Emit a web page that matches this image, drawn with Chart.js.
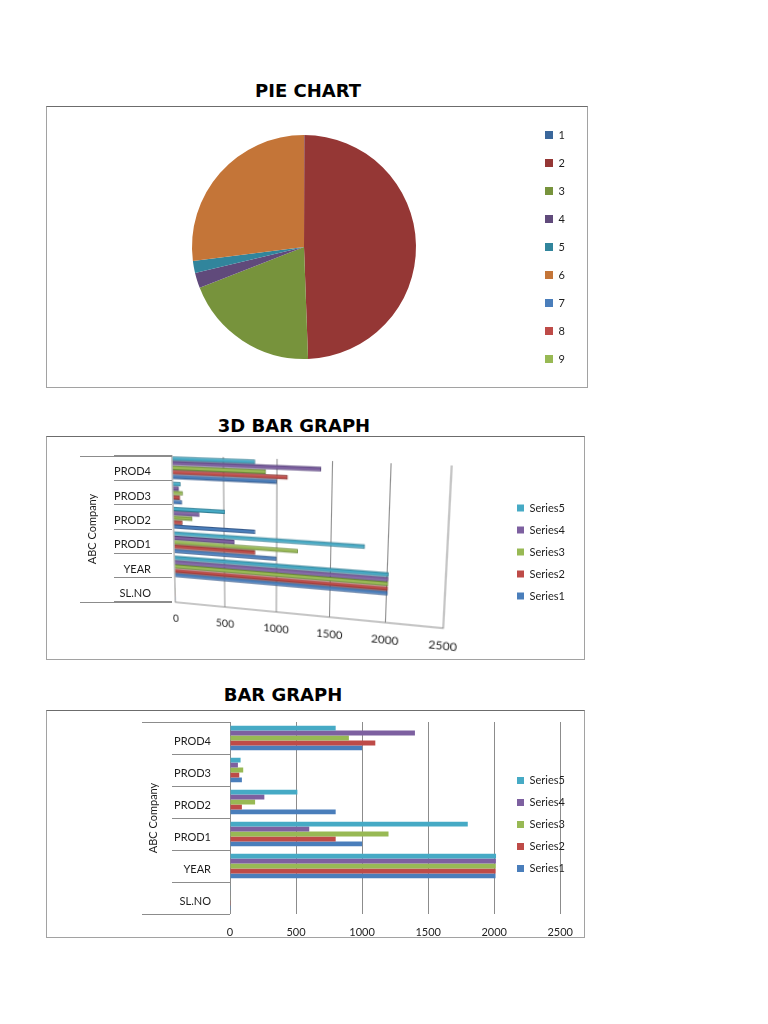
<!DOCTYPE html>
<html>
<head>
<meta charset="utf-8">
<title>Pie chart, 3D bar graph and bar graph</title>
<script src="https://cdn.jsdelivr.net/npm/chart.js@4.4.1/dist/chart.umd.min.js"></script>
<style>
  html, body { margin: 0; padding: 0; background: #fff; }
  body { width: 768px; height: 1024px; position: relative; overflow: hidden; }
  .heading { position: absolute; width: 300px; text-align: center; font: bold 18px "DejaVu Sans", sans-serif; color: #000; line-height: 22px; }
  .frame { position: absolute; box-sizing: border-box; border: 1px solid #a2a2a2; border-top-color: #6c6c6c; }
  .box { position: absolute; }
  .box canvas { position: absolute; left: 0; top: 0; }
</style>
</head>
<body>

<div class="heading" style="left:158px; top:80px;">PIE CHART</div>
<div class="frame" style="left:46px; top:106px; width:542px; height:282px;"></div>
<div class="box" style="left:46px; top:106px; width:542px; height:282px;">
  <canvas id="pie" width="542" height="282"></canvas>
</div>

<div class="heading" style="left:144px; top:415px;">3D BAR GRAPH</div>
<div class="frame" style="left:46px; top:436px; width:539px; height:224px;"></div>
<div class="box" style="left:46px; top:436px; width:539px; height:224px;">
  <canvas id="bars3d" width="300" height="182"></canvas>
  <canvas id="axis3d" width="539" height="224"></canvas>
</div>

<div class="heading" style="left:133px; top:684px;">BAR GRAPH</div>
<div class="frame" style="left:46px; top:710px; width:539px; height:228px;"></div>
<div class="box" style="left:46px; top:710px; width:539px; height:228px;">
  <canvas id="bars" width="539" height="228"></canvas>
</div>

<script>
Chart.defaults.font.family = 'Lato, "Open Sans", sans-serif';
Chart.defaults.font.size = 11;
Chart.defaults.color = '#1e1e1e';
Chart.defaults.animation = false;

// pie (7, 8 and 9 have no slice)
const pieLabels = ['1', '2', '3', '4', '5', '6', '7', '8', '9'];
const pieValues = [2, 2011, 800, 90, 70, 1100, 0, 0, 0];
const pieColors = ['#3A679B', '#953735', '#77933C', '#604A7B', '#31859C', '#C47538', '#4A7EBB', '#BE4B48', '#98B954'];

// bar graphs (top to bottom as drawn)
const categories = ['PROD4', 'PROD3', 'PROD2', 'PROD1', 'YEAR', 'SL.NO'];
const seriesNames = ['Series1', 'Series2', 'Series3', 'Series4', 'Series5'];
const series1 = [1000, 90, 800, 1000, 2010, 1];
const series2 = [1100, 70, 90, 800, 2011, 2];
const series3 = [900, 100, 190, 1200, 2012, 3];
const series4 = [1400, 60, 260, 600, 2013, 4];
const series5 = [800, 80, 510, 1800, 2014, 5];
const xTicks = [0, 500, 1000, 1500, 2000, 2500];
const axisTitle = 'ABC Company';

const seriesColors = ['#4A7EBB', '#BE4B48', '#98B954', '#7D60A0', '#46AAC5'];
const seriesEdges = ['#35598A', '#8A3533', '#6C8A3A', '#58437A', '#2F7C92'];
const gridGray = '#8c8c8c';

function makeSets(edge) {
  const values = [series1, series2, series3, series4, series5];
  // Series5 first so it sits on top of each group and heads the legend
  return [4, 3, 2, 1, 0].map(i => ({
    label: seriesNames[i],
    data: values[i],
    backgroundColor: seriesColors[i],
    borderColor: edge ? seriesEdges[i] : seriesColors[i],
    borderWidth: edge ? 1 : 0,
    categoryPercentage: edge ? 0.9 : 0.77,
    barPercentage: edge ? 0.96 : 1
  }));
}

function useTicks(scale) {
  scale.ticks = xTicks.map(v => ({ value: v }));
}
const plainTick = v => String(v);

// puts the legend at a fixed spot (x of first box, vertical centre)
const legendPlace = {
  id: 'legendPlace',
  beforeDraw(chart, args, opts) {
    const lg = chart.legend;
    if (!lg || opts.x === undefined) return;
    const pad = lg.options.labels.padding;
    lg.left = opts.x - pad;
    lg.right = lg.left + 200;
    lg.top = opts.y - 300;
    lg.bottom = opts.y + 300;
  }
};

// long lines at the top and bottom of the category column
const catLines = {
  id: 'catLines',
  afterDraw(chart, args, opts) {
    const s = chart.scales.y;
    const ctx = chart.ctx;
    ctx.save();
    ctx.strokeStyle = opts.color;
    ctx.lineWidth = 1;
    [s.top, s.bottom].forEach(y => {
      const py = Math.round(y) + 0.5;
      ctx.beginPath();
      ctx.moveTo(s.right - opts.length, py);
      ctx.lineTo(s.right, py);
      ctx.stroke();
    });
    ctx.restore();
  }
};

const hideBars = {
  id: 'hideBars',
  beforeDatasetsDraw() { return false; }
};

const legendLabels = (box, pad) => ({
  boxWidth: box, boxHeight: box, padding: pad, color: '#1e1e1e', font: { size: 11 }
});

// ---- pie ----
new Chart(document.getElementById('pie'), {
  type: 'pie',
  data: {
    labels: pieLabels,
    datasets: [{ data: pieValues, backgroundColor: pieColors, borderWidth: 0 }]
  },
  options: {
    responsive: false,
    layout: { padding: { left: 146, right: 172, top: 0, bottom: 0 } },
    plugins: {
      legend: { position: 'chartArea', labels: legendLabels(8, 17) },
      legendPlace: { x: 499, y: 141 },
      tooltip: { enabled: false }
    }
  },
  plugins: [legendPlace]
});

// ---- 3D bar graph: bars in perspective ----
const bars3dCanvas = document.getElementById('bars3d');
const bars3d = new Chart(bars3dCanvas, {
  type: 'bar',
  data: { labels: categories, datasets: makeSets(true) },
  options: {
    indexAxis: 'y',
    responsive: false,
    devicePixelRatio: 2,
    layout: { padding: { left: 6, right: 16, top: 4, bottom: 2 } },
    scales: {
      x: {
        min: xTicks[0], max: xTicks[xTicks.length - 1],
        afterBuildTicks: useTicks,
        grid: { color: gridGray, drawTicks: false },
        border: { display: true, color: gridGray },
        ticks: { padding: 10, callback: plainTick }
      },
      y: { display: false }
    },
    plugins: { legend: { display: false }, tooltip: { enabled: false } }
  }
});

function quadTransform(area, q) {
  const [x0, y0, x1, y1, x2, y2, x3, y3] = q;
  const dx1 = x1 - x2, dx2 = x3 - x2, dx3 = x0 - x1 + x2 - x3;
  const dy1 = y1 - y2, dy2 = y3 - y2, dy3 = y0 - y1 + y2 - y3;
  const den = dx1 * dy2 - dx2 * dy1;
  const g = (dx3 * dy2 - dx2 * dy3) / den;
  const h = (dx1 * dy3 - dx3 * dy1) / den;
  const Q = [
    [x1 - x0 + g * x1, x3 - x0 + h * x3, x0],
    [y1 - y0 + g * y1, y3 - y0 + h * y3, y0],
    [g, h, 1]
  ];
  const rx = area.left, ry = area.top;
  const rw = area.right - area.left, rh = area.bottom - area.top;
  const M = Q.map(r => [r[0] / rw, r[1] / rh, r[2] - r[0] * rx / rw - r[1] * ry / rh]);
  return 'matrix3d(' + [
    M[0][0], M[1][0], 0, M[2][0],
    M[0][1], M[1][1], 0, M[2][1],
    0, 0, 1, 0,
    M[0][2], M[1][2], 0, M[2][2]
  ].join(',') + ')';
}

// plot corners: top-left, top-right, bottom-right, bottom-left (box coords)
bars3dCanvas.style.transformOrigin = '0 0';
bars3dCanvas.style.transform = quadTransform(bars3d.chartArea, [126, 19, 406, 29.5, 397.5, 192, 129.5, 166]);

// ---- 3D bar graph: flat category column and legend ----
new Chart(document.getElementById('axis3d'), {
  type: 'bar',
  data: { labels: categories, datasets: makeSets(false) },
  options: {
    indexAxis: 'y',
    responsive: false,
    layout: { padding: { left: 30, right: 20, top: 20, bottom: 58 } },
    scales: {
      x: { display: false, min: 0, max: 2500 },
      y: {
        afterFit(s) { s.width = 96; },
        grid: { drawOnChartArea: false, tickLength: 58, color: gridGray },
        border: { display: false },
        ticks: { padding: -37, labelOffset: 3.5 },
        title: { display: true, text: axisTitle, padding: { top: 9.7, bottom: 0 } }
      }
    },
    plugins: {
      legend: { position: 'chartArea', labels: legendLabels(7, 11) },
      legendPlace: { x: 471, y: 116 },
      catLines: { length: 92, color: gridGray },
      tooltip: { enabled: false }
    }
  },
  plugins: [legendPlace, catLines, hideBars]
});

// ---- flat bar graph ----
new Chart(document.getElementById('bars'), {
  type: 'bar',
  data: { labels: categories, datasets: makeSets(false) },
  options: {
    indexAxis: 'y',
    responsive: false,
    layout: { padding: { left: 90, right: 24, top: 12, bottom: 0 } },
    scales: {
      x: {
        min: xTicks[0], max: xTicks[xTicks.length - 1],
        afterBuildTicks: useTicks,
        afterFit(s) { s.height = 24; },
        grid: { color: gridGray, drawTicks: false },
        border: { display: false },
        ticks: { padding: 12, callback: plainTick }
      },
      y: {
        afterFit(s) { s.width = 94; },
        grid: { drawOnChartArea: false, tickLength: 58, color: gridGray },
        border: { display: false },
        ticks: { padding: -39, labelOffset: 3 },
        title: { display: true, text: axisTitle, padding: { top: 10.7, bottom: 0 } }
      }
    },
    plugins: {
      legend: { position: 'chartArea', labels: legendLabels(7, 11) },
      legendPlace: { x: 471, y: 114.5 },
      catLines: { length: 88, color: gridGray },
      tooltip: { enabled: false }
    }
  },
  plugins: [legendPlace, catLines]
});
</script>
</body>
</html>
